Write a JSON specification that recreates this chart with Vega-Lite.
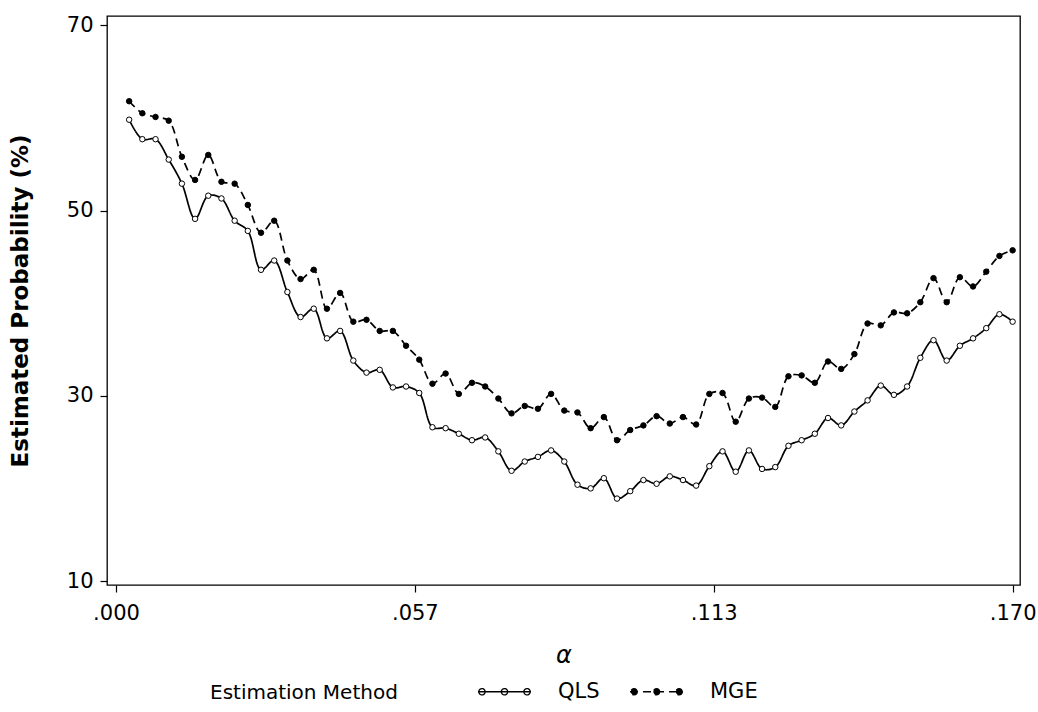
{
  "$schema": "https://vega.github.io/schema/vega-lite/v6.json",
  "autosize": {"type": "none"},
  "padding": {"left": 107, "top": 16, "right": 18, "bottom": 127},
  "width": 913,
  "height": 569,
  "background": "white",
  "config": {
    "view": {"stroke": "black", "strokeWidth": 1.3},
    "font": "DejaVu Sans",
    "axis": {
      "labelFont": "DejaVu Sans",
      "titleFont": "DejaVu Sans",
      "labelColor": "black",
      "titleColor": "black",
      "tickColor": "black",
      "domain": false,
      "grid": false,
      "tickSize": 7,
      "tickWidth": 1.2
    },
    "legend": {
      "labelFont": "DejaVu Sans",
      "titleFont": "DejaVu Sans"
    }
  },
  "data": {
    "values": [
      {"alpha": 0.0025, "method": "QLS", "p": 59.8},
      {"alpha": 0.0050, "method": "QLS", "p": 57.7},
      {"alpha": 0.0075, "method": "QLS", "p": 57.7},
      {"alpha": 0.0100, "method": "QLS", "p": 55.5},
      {"alpha": 0.0125, "method": "QLS", "p": 52.9},
      {"alpha": 0.0150, "method": "QLS", "p": 49.1},
      {"alpha": 0.0175, "method": "QLS", "p": 51.6},
      {"alpha": 0.0200, "method": "QLS", "p": 51.3},
      {"alpha": 0.0225, "method": "QLS", "p": 48.9},
      {"alpha": 0.0250, "method": "QLS", "p": 47.8},
      {"alpha": 0.0275, "method": "QLS", "p": 43.6},
      {"alpha": 0.0300, "method": "QLS", "p": 44.6},
      {"alpha": 0.0325, "method": "QLS", "p": 41.2},
      {"alpha": 0.0350, "method": "QLS", "p": 38.5},
      {"alpha": 0.0375, "method": "QLS", "p": 39.4},
      {"alpha": 0.0400, "method": "QLS", "p": 36.2},
      {"alpha": 0.0425, "method": "QLS", "p": 37.0},
      {"alpha": 0.0450, "method": "QLS", "p": 33.8},
      {"alpha": 0.0475, "method": "QLS", "p": 32.5},
      {"alpha": 0.0500, "method": "QLS", "p": 32.8},
      {"alpha": 0.0525, "method": "QLS", "p": 30.9},
      {"alpha": 0.0550, "method": "QLS", "p": 31.0},
      {"alpha": 0.0575, "method": "QLS", "p": 30.3},
      {"alpha": 0.0600, "method": "QLS", "p": 26.6},
      {"alpha": 0.0625, "method": "QLS", "p": 26.5},
      {"alpha": 0.0650, "method": "QLS", "p": 25.9},
      {"alpha": 0.0675, "method": "QLS", "p": 25.2},
      {"alpha": 0.0700, "method": "QLS", "p": 25.5},
      {"alpha": 0.0725, "method": "QLS", "p": 24.0},
      {"alpha": 0.0750, "method": "QLS", "p": 21.9},
      {"alpha": 0.0775, "method": "QLS", "p": 22.9},
      {"alpha": 0.0800, "method": "QLS", "p": 23.4},
      {"alpha": 0.0825, "method": "QLS", "p": 24.1},
      {"alpha": 0.0850, "method": "QLS", "p": 22.9},
      {"alpha": 0.0875, "method": "QLS", "p": 20.4},
      {"alpha": 0.0900, "method": "QLS", "p": 20.0},
      {"alpha": 0.0925, "method": "QLS", "p": 21.1},
      {"alpha": 0.0950, "method": "QLS", "p": 18.9},
      {"alpha": 0.0975, "method": "QLS", "p": 19.7},
      {"alpha": 0.1000, "method": "QLS", "p": 20.9},
      {"alpha": 0.1025, "method": "QLS", "p": 20.5},
      {"alpha": 0.1050, "method": "QLS", "p": 21.3},
      {"alpha": 0.1075, "method": "QLS", "p": 20.9},
      {"alpha": 0.1100, "method": "QLS", "p": 20.3},
      {"alpha": 0.1125, "method": "QLS", "p": 22.4},
      {"alpha": 0.1150, "method": "QLS", "p": 24.0},
      {"alpha": 0.1175, "method": "QLS", "p": 21.8},
      {"alpha": 0.1200, "method": "QLS", "p": 24.1},
      {"alpha": 0.1225, "method": "QLS", "p": 22.1},
      {"alpha": 0.1250, "method": "QLS", "p": 22.3},
      {"alpha": 0.1275, "method": "QLS", "p": 24.6},
      {"alpha": 0.1300, "method": "QLS", "p": 25.2},
      {"alpha": 0.1325, "method": "QLS", "p": 25.9},
      {"alpha": 0.1350, "method": "QLS", "p": 27.6},
      {"alpha": 0.1375, "method": "QLS", "p": 26.8},
      {"alpha": 0.1400, "method": "QLS", "p": 28.3},
      {"alpha": 0.1425, "method": "QLS", "p": 29.5},
      {"alpha": 0.1450, "method": "QLS", "p": 31.1},
      {"alpha": 0.1475, "method": "QLS", "p": 30.1},
      {"alpha": 0.1500, "method": "QLS", "p": 31.0},
      {"alpha": 0.1525, "method": "QLS", "p": 34.1},
      {"alpha": 0.1550, "method": "QLS", "p": 36.0},
      {"alpha": 0.1575, "method": "QLS", "p": 33.8},
      {"alpha": 0.1600, "method": "QLS", "p": 35.4},
      {"alpha": 0.1625, "method": "QLS", "p": 36.2},
      {"alpha": 0.1650, "method": "QLS", "p": 37.3},
      {"alpha": 0.1675, "method": "QLS", "p": 38.8},
      {"alpha": 0.1700, "method": "QLS", "p": 38.0},
      {"alpha": 0.0025, "method": "MGE", "p": 61.8},
      {"alpha": 0.0050, "method": "MGE", "p": 60.5},
      {"alpha": 0.0075, "method": "MGE", "p": 60.1},
      {"alpha": 0.0100, "method": "MGE", "p": 59.7},
      {"alpha": 0.0125, "method": "MGE", "p": 55.8},
      {"alpha": 0.0150, "method": "MGE", "p": 53.3},
      {"alpha": 0.0175, "method": "MGE", "p": 56.0},
      {"alpha": 0.0200, "method": "MGE", "p": 53.1},
      {"alpha": 0.0225, "method": "MGE", "p": 52.9},
      {"alpha": 0.0250, "method": "MGE", "p": 50.6},
      {"alpha": 0.0275, "method": "MGE", "p": 47.6},
      {"alpha": 0.0300, "method": "MGE", "p": 48.9},
      {"alpha": 0.0325, "method": "MGE", "p": 44.6},
      {"alpha": 0.0350, "method": "MGE", "p": 42.6},
      {"alpha": 0.0375, "method": "MGE", "p": 43.6},
      {"alpha": 0.0400, "method": "MGE", "p": 39.4},
      {"alpha": 0.0425, "method": "MGE", "p": 41.1},
      {"alpha": 0.0450, "method": "MGE", "p": 38.0},
      {"alpha": 0.0475, "method": "MGE", "p": 38.2},
      {"alpha": 0.0500, "method": "MGE", "p": 37.0},
      {"alpha": 0.0525, "method": "MGE", "p": 37.0},
      {"alpha": 0.0550, "method": "MGE", "p": 35.4},
      {"alpha": 0.0575, "method": "MGE", "p": 33.9},
      {"alpha": 0.0600, "method": "MGE", "p": 31.3},
      {"alpha": 0.0625, "method": "MGE", "p": 32.4},
      {"alpha": 0.0650, "method": "MGE", "p": 30.2},
      {"alpha": 0.0675, "method": "MGE", "p": 31.4},
      {"alpha": 0.0700, "method": "MGE", "p": 31.0},
      {"alpha": 0.0725, "method": "MGE", "p": 29.7},
      {"alpha": 0.0750, "method": "MGE", "p": 28.1},
      {"alpha": 0.0775, "method": "MGE", "p": 28.9},
      {"alpha": 0.0800, "method": "MGE", "p": 28.6},
      {"alpha": 0.0825, "method": "MGE", "p": 30.2},
      {"alpha": 0.0850, "method": "MGE", "p": 28.4},
      {"alpha": 0.0875, "method": "MGE", "p": 28.2},
      {"alpha": 0.0900, "method": "MGE", "p": 26.5},
      {"alpha": 0.0925, "method": "MGE", "p": 27.7},
      {"alpha": 0.0950, "method": "MGE", "p": 25.2},
      {"alpha": 0.0975, "method": "MGE", "p": 26.3},
      {"alpha": 0.1000, "method": "MGE", "p": 26.8},
      {"alpha": 0.1025, "method": "MGE", "p": 27.8},
      {"alpha": 0.1050, "method": "MGE", "p": 27.0},
      {"alpha": 0.1075, "method": "MGE", "p": 27.7},
      {"alpha": 0.1100, "method": "MGE", "p": 26.9},
      {"alpha": 0.1125, "method": "MGE", "p": 30.2},
      {"alpha": 0.1150, "method": "MGE", "p": 30.3},
      {"alpha": 0.1175, "method": "MGE", "p": 27.2},
      {"alpha": 0.1200, "method": "MGE", "p": 29.7},
      {"alpha": 0.1225, "method": "MGE", "p": 29.8},
      {"alpha": 0.1250, "method": "MGE", "p": 28.8},
      {"alpha": 0.1275, "method": "MGE", "p": 32.1},
      {"alpha": 0.1300, "method": "MGE", "p": 32.2},
      {"alpha": 0.1325, "method": "MGE", "p": 31.4},
      {"alpha": 0.1350, "method": "MGE", "p": 33.7},
      {"alpha": 0.1375, "method": "MGE", "p": 32.9},
      {"alpha": 0.1400, "method": "MGE", "p": 34.5},
      {"alpha": 0.1425, "method": "MGE", "p": 37.8},
      {"alpha": 0.1450, "method": "MGE", "p": 37.6},
      {"alpha": 0.1475, "method": "MGE", "p": 39.0},
      {"alpha": 0.1500, "method": "MGE", "p": 38.9},
      {"alpha": 0.1525, "method": "MGE", "p": 40.1},
      {"alpha": 0.1550, "method": "MGE", "p": 42.7},
      {"alpha": 0.1575, "method": "MGE", "p": 40.1},
      {"alpha": 0.1600, "method": "MGE", "p": 42.8},
      {"alpha": 0.1625, "method": "MGE", "p": 41.8},
      {"alpha": 0.1650, "method": "MGE", "p": 43.4},
      {"alpha": 0.1675, "method": "MGE", "p": 45.1},
      {"alpha": 0.1700, "method": "MGE", "p": 45.7}
    ]
  },
  "encoding": {
    "x": {
      "field": "alpha",
      "type": "quantitative",
      "scale": {"domain": [-0.0017, 0.1714], "nice": false, "zero": false},
      "axis": {
        "values": [0, 0.0566667, 0.1133333, 0.17],
        "labelExpr": "substring(format(datum.value, '.3f'), 1)",
        "labelFontSize": 21,
        "labelPadding": 10,
        "title": "α",
        "titleFontSize": 24,
        "titleFontStyle": "italic",
        "titleFontWeight": "normal",
        "titlePadding": 20
      }
    },
    "y": {
      "field": "p",
      "type": "quantitative",
      "scale": {"domain": [9.57, 71.0], "nice": false, "zero": false},
      "axis": {
        "values": [10, 30, 50, 70],
        "labelFontSize": 21,
        "labelPadding": 7,
        "title": "Estimated Probability (%)",
        "titleFontSize": 23,
        "titleFontWeight": "bold",
        "titlePadding": 34
      }
    }
  },
  "layer": [
    {
      "mark": {"type": "line", "interpolate": "catmull-rom", "color": "black", "strokeWidth": 1.7},
      "encoding": {
        "strokeDash": {
          "field": "method",
          "type": "nominal",
          "sort": ["QLS", "MGE"],
          "scale": {"domain": ["QLS", "MGE"], "range": [[1, 0], [8, 5]]},
          "legend": {
            "orient": "none",
            "legendX": 103,
            "legendY": 648,
            "direction": "horizontal",
            "title": "Estimation  Method",
            "titleOrient": "left",
            "titleAnchor": "middle",
            "titleLimit": 400,
            "titleFontSize": 20,
            "titleFontWeight": "normal",
            "titleColor": "black",
            "titlePadding": 72,
            "titleBaseline": "top",
            "labelFontSize": 21,
            "labelColor": "black",
            "labelOffset": 26,
            "columnPadding": 27,
            "symbolType": "M-1,0H1M-0.73,0A0.12,0.12 0 1,0 -0.97,0A0.12,0.12 0 1,0 -0.73,0ZM0.12,0A0.12,0.12 0 1,0 -0.12,0A0.12,0.12 0 1,0 0.12,0ZM0.97,0A0.12,0.12 0 1,0 0.73,0A0.12,0.12 0 1,0 0.97,0Z",
            "symbolSize": 2809,
            "symbolStrokeColor": "black",
            "symbolStrokeWidth": 1.3,
            "encode": {
              "symbols": {
                "update": {
                  "fill": {"signal": "datum.value === 'MGE' ? 'black' : 'white'"},
                  "stroke": {"value": "black"}
                }
              }
            }
          }
        }
      }
    },
    {
      "mark": {"type": "circle", "stroke": "black", "strokeWidth": 1, "size": 30, "opacity": 1},
      "encoding": {
        "fill": {
          "field": "method",
          "type": "nominal",
          "scale": {"domain": ["QLS", "MGE"], "range": ["white", "black"]},
          "legend": null
        }
      }
    }
  ]
}
